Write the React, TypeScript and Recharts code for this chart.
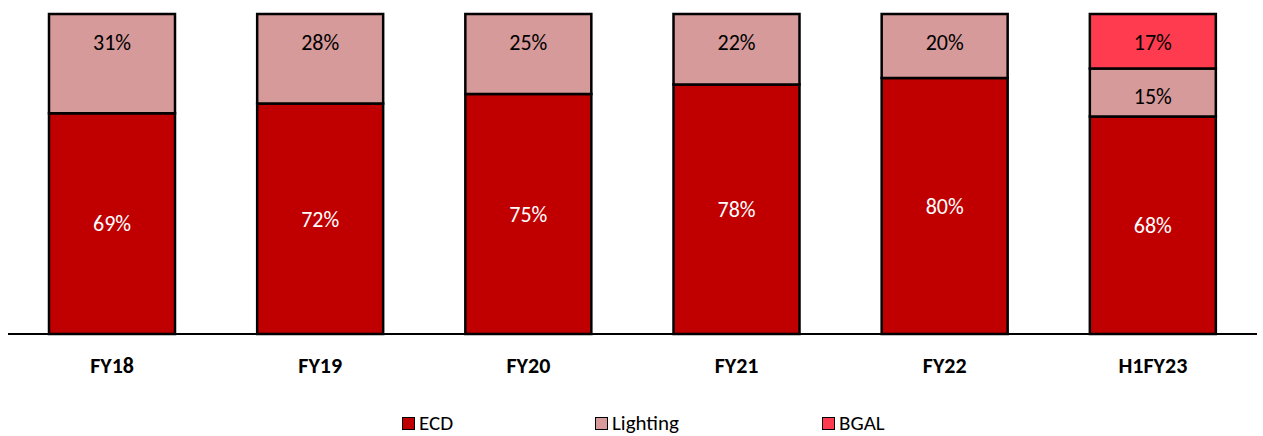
import { Bar, BarChart, LabelList, XAxis, YAxis } from "recharts";

const categories = ["FY18", "FY19", "FY20", "FY21", "FY22", "H1FY23"];
const ecd = [69, 72, 75, 78, 80, 68];
const lighting = [31, 28, 25, 22, 20, 15];
const bgal: (number | null)[] = [null, null, null, null, null, 17];

const series = [
  { key: "ECD", color: "#C00000", text: "#FFFFFF" },
  { key: "Lighting", color: "#D69A9A", text: "#000000" },
  { key: "BGAL", color: "#FF3B4F", text: "#000000" },
];

const data = categories.map((name, i) => ({
  name,
  ECD: ecd[i],
  Lighting: lighting[i],
  BGAL: bgal[i],
}));

const FONT = "Carlito, Lato, 'Liberation Sans', sans-serif";
const pct = (v: unknown) => (v === null || v === undefined ? "" : `${v}%`);

const legendLeft = [402, 595, 822];

function ChartLegend() {
  return (
    <div style={{ position: "absolute", left: 0, top: 412, width: 1263, height: 23 }}>
      {series.map((s, i) => (
        <div
          key={s.key}
          style={{
            position: "absolute",
            left: legendLeft[i],
            top: 0,
            display: "flex",
            alignItems: "center",
            fontFamily: FONT,
            fontSize: 21,
            color: "#000",
            lineHeight: "23px",
            whiteSpace: "nowrap",
          }}
        >
          <span
            style={{
              display: "inline-block",
              width: 11,
              height: 11,
              background: s.color,
              border: "1.5px solid #000",
              marginRight: 4,
            }}
          />
          {s.key}
        </div>
      ))}
    </div>
  );
}

export default function App() {
  return (
    <div style={{ position: "absolute", left: 0, top: 0, width: 1263, height: 436, overflow: "hidden", background: "#fff" }}>
      <BarChart
        width={1263}
        height={436}
        data={data}
        margin={{ top: 14, right: 6, left: 8, bottom: 72 }}
        barSize={126}
      >
        <YAxis hide domain={[0, 100]} />
        <XAxis
          dataKey="name"
          height={30}
          tickLine={false}
          tickSize={0}
          tickMargin={23}
          axisLine={{ stroke: "#000", strokeWidth: 2 }}
          tick={{ fill: "#000", fontSize: 22, fontWeight: 700, fontFamily: FONT }}
          interval={0}
        />
        {series.map((s, i) => (
          <Bar
            key={s.key}
            dataKey={s.key}
            stackId="a"
            fill={s.color}
            stroke="#000"
            strokeWidth={2.5}
            isAnimationActive={false}
          >
            <LabelList
              dataKey={s.key}
              position={i === 0 ? "center" : "insideTop"}
              offset={20}
              formatter={pct}
              fill={s.text}
              style={{ fontSize: 22, fontFamily: FONT }}
            />
          </Bar>
        ))}
      </BarChart>
      <ChartLegend />
    </div>
  );
}
